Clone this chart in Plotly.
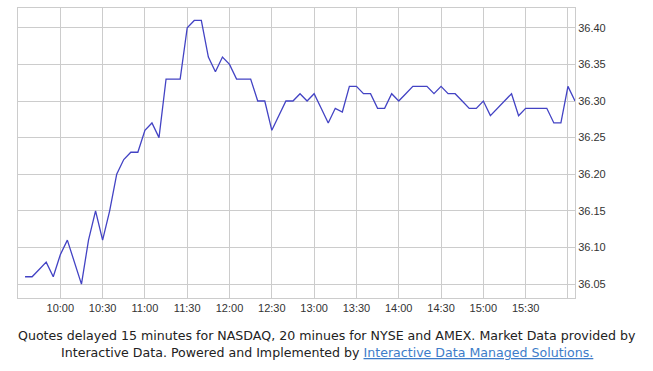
import plotly.graph_objects as go

times = ["09:35","09:40","09:45","09:50","09:55","10:00","10:05","10:10","10:15","10:20",
         "10:25","10:30","10:35","10:40","10:45","10:50","10:55","11:00","11:05","11:10",
         "11:15","11:20","11:25","11:30","11:35","11:40","11:45","11:50","11:55","12:00",
         "12:05","12:10","12:15","12:20","12:25","12:30","12:35","12:40","12:45","12:50",
         "12:55","13:00","13:05","13:10","13:15","13:20","13:25","13:30","13:35","13:40",
         "13:45","13:50","13:55","14:00","14:05","14:10","14:15","14:20","14:25","14:30",
         "14:35","14:40","14:45","14:50","14:55","15:00","15:05","15:10","15:15","15:20",
         "15:25","15:30","15:35","15:40","15:45","15:50","15:55","16:00","16:05"]
prices = [36.06, 36.06, 36.07, 36.08, 36.06, 36.09, 36.11, 36.08, 36.05, 36.11,
          36.15, 36.11, 36.15, 36.20, 36.22, 36.23, 36.23, 36.26, 36.27, 36.25,
          36.33, 36.33, 36.33, 36.40, 36.41, 36.41, 36.36, 36.34, 36.36, 36.35,
          36.33, 36.33, 36.33, 36.30, 36.30, 36.26, 36.28, 36.30, 36.30, 36.31,
          36.30, 36.31, 36.29, 36.27, 36.29, 36.285, 36.32, 36.32, 36.31, 36.31,
          36.29, 36.29, 36.31, 36.30, 36.31, 36.32, 36.32, 36.32, 36.31, 36.32,
          36.31, 36.31, 36.30, 36.29, 36.29, 36.30, 36.28, 36.29, 36.30, 36.31,
          36.28, 36.29, 36.29, 36.29, 36.29, 36.27, 36.27, 36.32, 36.30]
tick_times = ["10:00","10:30","11:00","11:30","12:00","12:30","13:00","13:30",
              "14:00","14:30","15:00","15:30","16:00"]
tick_labels = ["10:00","10:30","11:00","11:30","12:00","12:30","13:00","13:30",
               "14:00","14:30","15:00","15:30",""]
y_ticks = [36.05, 36.10, 36.15, 36.20, 36.25, 36.30, 36.35, 36.40]

day = "2024-01-02 "
x = [day + t for t in times]

fig = go.Figure()
fig.add_trace(go.Scatter(x=x, y=prices, mode="lines",
                         line=dict(color="#4343c4", width=1.3), hoverinfo="skip"))

fig.update_layout(
    width=653, height=371,
    margin=dict(l=18, r=78, t=8, b=73),
    paper_bgcolor="white", plot_bgcolor="white",
    showlegend=False,
    font=dict(family="Liberation Sans, Arial, sans-serif", size=11, color="#333333"),
)
fig.update_xaxes(
    type="date",
    range=[day + "09:30", day + "16:05"],
    tickvals=[day + t for t in tick_times], ticktext=tick_labels,
    showgrid=True, gridcolor="#cccccc", gridwidth=1,
    showline=True, linecolor="#cccccc", mirror=True,
    zeroline=False, ticks="", tickfont=dict(size=11, color="#333333"),
)
fig.update_yaxes(
    side="right",
    range=[36.031, 36.427],
    tickvals=y_ticks, ticktext=[f"{v:.2f}" for v in y_ticks],
    showgrid=True, gridcolor="#cccccc", gridwidth=1,
    showline=True, linecolor="#cccccc", mirror=True,
    zeroline=False, ticks="", tickfont=dict(size=11, color="#333333"),
)

fig.add_annotation(
    xref="paper", yref="paper", x=(326.5 - 18) / 557, y=-(335 - 298) / 290,
    text="Quotes delayed 15 minutes for NASDAQ, 20 minues for NYSE and AMEX. Market Data provided by",
    showarrow=False, xanchor="center", yanchor="middle",
    font=dict(family="DejaVu Sans", size=12.6, color="#222222"),
)
fig.add_annotation(
    xref="paper", yref="paper", x=(326.5 - 18) / 557, y=-(352 - 298) / 290,
    text="Interactive Data. Powered and Implemented by "
         "<span style='color:#3d7cc9'><u>Interactive Data Managed Solutions.</u></span>",
    showarrow=False, xanchor="center", yanchor="middle",
    font=dict(family="DejaVu Sans", size=12.6, color="#222222"),
)

fig.write_html("out.html")
